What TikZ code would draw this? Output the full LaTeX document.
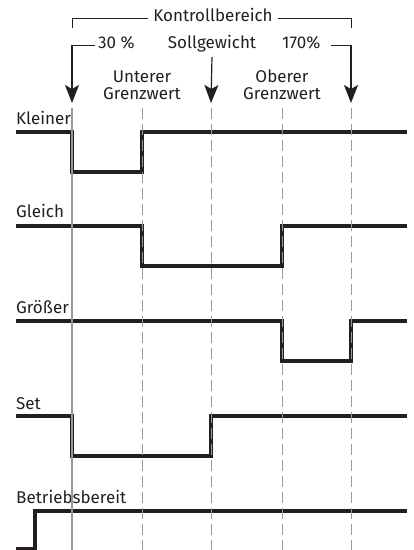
\documentclass[tikz,border=0pt]{standalone}
\usepackage{fontspec}
\setmainfont{Fira Sans}
\usepackage{xcolor}
\usetikzlibrary{arrows.meta}

\definecolor{ink}{HTML}{231F20}
\definecolor{rule}{HTML}{9A9A9A}

\begin{document}
\begin{tikzpicture}[x=1pt,y=-1pt,
  signal/.style={ink, line width=3.6pt},
  marker/.style={rule, line width=1.3pt},
  guide/.style={rule, line width=0.9pt, dash pattern=on 11pt off 5pt},
  pointer/.style={ink, line width=1.2pt, -{Stealth[length=18pt,width=14pt,inset=4pt]}},
  bracket/.style={ink, line width=0.9pt},
  label/.style={font=\fontsize{17}{17}\selectfont, inner sep=0pt, text=ink}]
  \useasboundingbox (0,0) rectangle (414,550);
  % control range header
  \node[label, anchor=base] (kb) at (213,21) {Kontrollbereich};
  \coordinate (kbl) at (72,28);
  \coordinate (kbr) at (351,28);
  \draw[bracket] ([xshift=-5pt]kb.mid west) -| (kbl);
  \draw[bracket] ([xshift=5pt]kb.mid east) -| (kbr);
  % limits
  \node[label, anchor=base west] (lo) at (98,48) {30 \%};
  \node[label, anchor=base] (sg) at (212,48) {Sollgewicht};
  \node[label, anchor=base west] (hi) at (282,48) {170\%};
  \coordinate (lotip) at (72,103);
  \coordinate (sgtip) at (211,103);
  \coordinate (hitip) at (351,103);
  \draw[pointer] ([xshift=-3pt]lo.mid west) -| (lotip);
  \draw[pointer] ([yshift=-5pt]sg.south) -- (sgtip);
  \draw[pointer] ([xshift=10pt]hi.mid east) -| (hitip);
  \node[label, anchor=south, align=center] (ug) at (142,100) {Unterer\\Grenzwert};
  \node[label, anchor=south, align=center] (og) at (282,100) {Oberer\\Grenzwert};
  % signal names
  \node[label, anchor=base west] (kl) at (16,124) {Kleiner};
  \node[label, anchor=base west] (gl) at (16,217) {Gleich};
  \node[label, anchor=base west] (gr) at (16,313) {Größer};
  \node[label, anchor=base west] (st) at (16,409) {Set};
  \node[label, anchor=base west] (bb) at (16,503) {Betriebsbereit};
  % signals
  \draw[signal] (16,132) -| (72,172) -| (142,132) -- (407,132);
  \draw[signal] (16,226) -| (142,266) -| (282,226) -- (407,226);
  \draw[signal] (16,321) -| (282,361) -| (351,321) -- (407,321);
  \draw[signal] (16,416) -| (72,456) -| (211,416) -- (407,416);
  \draw[signal] (16,549) -| (35,511) -- (407,511);
  % switching points
  \draw[marker] (72,108) -- (72,550);
  \foreach \x in {142,211,282,351}
    \draw[guide] (\x,108) -- (\x,550);
\end{tikzpicture}
\end{document}
